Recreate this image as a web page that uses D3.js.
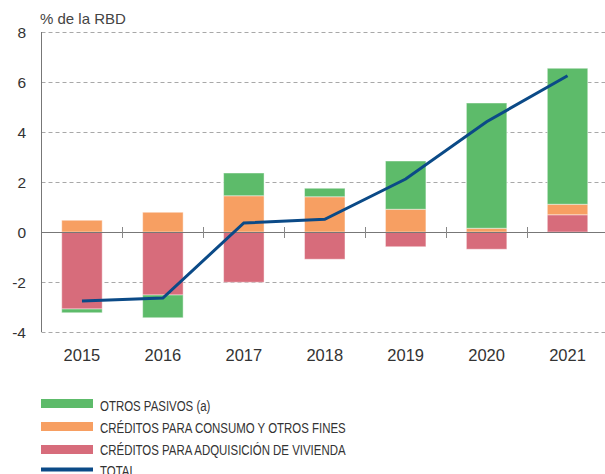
<!DOCTYPE html>
<html>
<head>
<meta charset="utf-8">
<script src="https://cdn.jsdelivr.net/npm/d3@7"></script>
<style>
  body { margin: 0; background: #fff; }
  svg { display: block; font-family: "Liberation Sans", Arial, sans-serif; }
</style>
</head>
<body>
<div id="chart"></div>
<script>
const years = ['2015', '2016', '2017', '2018', '2019', '2020', '2021'];
const vivienda = [-3.08, -2.52, -2.01, -1.09, -0.59, -0.69, 0.69];
const consumo = [0.47, 0.79, 1.45, 1.41, 0.91, 0.15, 0.42];
const otros = [-0.15, -0.91, 0.91, 0.34, 1.93, 5.01, 5.44];
const total = [-2.76, -2.64, 0.36, 0.51, 2.12, 4.41, 6.25];
const yTicks = [-4, -2, 0, 2, 4, 6, 8];

const series = [
    { name: 'OTROS PASIVOS (a)', values: otros, color: '#5dbb6a' },
    { name: 'CRÉDITOS PARA CONSUMO Y OTROS FINES', values: consumo, color: '#f79f62' },
    { name: 'CRÉDITOS PARA ADQUISICIÓN DE VIVIENDA', values: vivienda, color: '#d76c7b' }
];
const stackOrder = [2, 1, 0]; // vivienda primero, luego consumo, luego otros

const width = 605;
const height = 474;

const svg = d3.select('#chart')
    .append('svg')
    .attr('width', width)
    .attr('height', height);

const x = d3.scaleBand()
    .domain(years)
    .range([41.5, 608])
    .paddingInner(0.5)
    .paddingOuter(0.25);

const y = d3.scaleLinear()
    .domain([-4, 8])
    .range([332, 32]);

// rejilla
svg.append('g')
    .selectAll('line')
    .data(yTicks.filter(d => d !== 0))
    .enter()
    .append('line')
    .attr('x1', 41.5)
    .attr('x2', width)
    .attr('y1', d => Math.round(y(d)) + 0.5)
    .attr('y2', d => Math.round(y(d)) + 0.5)
    .attr('stroke', '#a8a8a8')
    .attr('stroke-dasharray', '4,3');

// etiquetas eje y
svg.append('g')
    .selectAll('text')
    .data(yTicks)
    .enter()
    .append('text')
    .attr('x', 26)
    .attr('y', d => y(d) + 5.5)
    .attr('text-anchor', 'end')
    .attr('font-size', '15.5px')
    .attr('fill', '#333')
    .text(d => d);

svg.append('text')
    .attr('x', 40)
    .attr('y', 24)
    .attr('font-size', '15px')
    .attr('fill', '#444')
    .text('% de la RBD');

// barras apiladas, positivos y negativos por separado
years.forEach((yr, i) => {
    let pos = 0;
    let neg = 0;
    stackOrder.forEach(si => {
        const s = series[si];
        const v = s.values[i];
        let y0, y1;
        if (v >= 0) { y0 = pos; y1 = pos + v; pos = y1; }
        else { y0 = neg; y1 = neg + v; neg = y1; }
        svg.append('rect')
            .attr('x', x(yr))
            .attr('width', x.bandwidth())
            .attr('y', y(Math.max(y0, y1)))
            .attr('height', Math.abs(y(y0) - y(y1)))
            .attr('fill', s.color)
            .attr('stroke', '#fff')
            .attr('stroke-opacity', 0.45)
            .attr('stroke-width', 1);
    });
});

// ejes
svg.append('line')
    .attr('x1', 41.5).attr('x2', 41.5)
    .attr('y1', 32).attr('y2', 332)
    .attr('stroke', '#777').attr('stroke-width', 1);

svg.append('line')
    .attr('x1', 41.5).attr('x2', width)
    .attr('y1', y(0) + 0.5).attr('y2', y(0) + 0.5)
    .attr('stroke', '#777').attr('stroke-width', 1);

// marcas entre categorías
svg.append('g')
    .selectAll('line')
    .data(years.slice(1))
    .enter()
    .append('line')
    .attr('x1', d => Math.round(x(d) - x.step() * 0.25) + 0.5)
    .attr('x2', d => Math.round(x(d) - x.step() * 0.25) + 0.5)
    .attr('y1', y(0) - 5)
    .attr('y2', y(0) + 6)
    .attr('stroke', '#888');

// etiquetas eje x
svg.append('g')
    .selectAll('text')
    .data(years)
    .enter()
    .append('text')
    .attr('x', d => x(d) + x.bandwidth() / 2)
    .attr('y', 361)
    .attr('text-anchor', 'middle')
    .attr('font-size', '16.5px')
    .attr('fill', '#333')
    .text(d => d);

// línea total
const line = d3.line()
    .x((d, i) => x(years[i]) + x.bandwidth() / 2)
    .y(d => y(d));

svg.append('path')
    .datum(total)
    .attr('d', line)
    .attr('fill', 'none')
    .attr('stroke', '#0b4a87')
    .attr('stroke-width', 3);

// leyenda
const legendItems = series.map(s => ({ name: s.name, color: s.color, type: 'rect' }))
    .concat([{ name: 'TOTAL', color: '#0b4a87', type: 'line' }]);
const legendY = [403.5, 426.5, 449.5, 469.5];
const legendBase = [410.5, 432.5, 454.5, 476];

const legend = svg.append('g');
legendItems.forEach((d, i) => {
    if (d.type === 'rect') {
        legend.append('rect')
            .attr('x', 41).attr('y', legendY[i] - 4.5)
            .attr('width', 52).attr('height', 9)
            .attr('fill', d.color);
    } else {
        legend.append('rect')
            .attr('x', 41).attr('y', legendY[i] - 2)
            .attr('width', 52).attr('height', 4)
            .attr('fill', d.color);
    }
    legend.append('text')
        .attr('transform', `translate(100,${legendBase[i]}) scale(0.79,1)`)
        .attr('font-size', '14.5px')
        .attr('fill', '#333')
        .text(d.name);
});
</script>
</body>
</html>
